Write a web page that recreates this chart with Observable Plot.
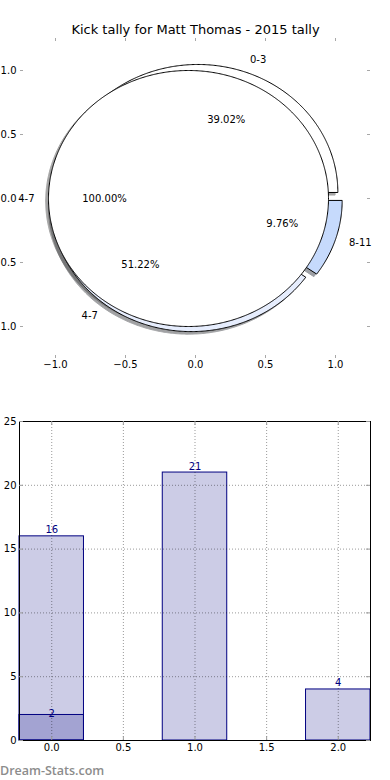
<!DOCTYPE html>
<html><head><meta charset="utf-8">
<script src="https://cdn.jsdelivr.net/npm/d3@7"></script>
<script src="https://cdn.jsdelivr.net/npm/@observablehq/plot@0.6"></script>
<style>
html,body{margin:0;padding:0;background:#fff;}
#chart{width:390px;height:780px;position:relative;overflow:hidden;}
#chart svg{display:block;}
#wm{position:absolute;left:0;top:762px;font-family:"Open Sans";font-size:12.5px;font-weight:600;color:#8c8c8c;white-space:nowrap;}
</style></head><body><div id="chart"></div>
<script>
// ---- data ----
const title = "Kick tally for Matt Thomas - 2015 tally";
const categories = ["0-3", "4-7", "8-11"];
const kicks = [16, 21, 4];
const overlayCategories = ["4-7"];
const overlayKicks = [41];
const wedgeColors = ["#ffffff", "#e6edfd", "#c6dafc"];
const overlayColors = ["#ffffff"];
const pieTicks = [-1, -0.5, 0, 0.5, 1];
const barX = [0, 1, 2];
const barValues = [16, 21, 4];
const subX = [0];
const subValues = [2];
const barXTicks = [0, 0.5, 1, 1.5, 2];
const barYTicks = [0, 5, 10, 15, 20, 25];
const watermark = "Dream-Stats.com";

// ---- pie geometry (matplotlib-style, exploded) ----
const explode = 0.05, shadowOff = 0.02;
function pieWedges(values, labels, colors) {
  const total = d3.sum(values);
  let a = 0;
  return values.map((v, i) => {
    const frac = v / total;
    const t1 = a, t2 = a + 360 * frac; a = t2;
    const tm = (t1 + t2) / 2 * Math.PI / 180;
    const cx = explode * Math.cos(tm), cy = explode * Math.sin(tm);
    const full = frac > 0.999999;
    const n = Math.max(2, Math.ceil((t2 - t1) * 2));
    const arc = d3.range(n + 1).map(k => {
      const t = (t1 + (t2 - t1) * k / n) * Math.PI / 180;
      return {x: cx + Math.cos(t), y: cy + Math.sin(t)};
    });
    const pts = full ? arc : [{x: cx, y: cy}, ...arc, {x: cx, y: cy}];
    return {
      label: labels[i], pct: (frac * 100).toFixed(2) + "%", color: colors[i], pts,
      lx: cx + 1.1 * Math.cos(tm), ly: cy + 1.1 * Math.sin(tm),
      px: cx + 0.6 * Math.cos(tm), py: cy + 0.6 * Math.sin(tm)
    };
  });
}
const pie1 = pieWedges(kicks, categories, wedgeColors);
const pie2 = pieWedges(overlayKicks, overlayCategories, overlayColors);
const allW = [...pie1, ...pie2];

const shadowMarks = allW.map(w => {
  const c = d3.rgb(w.color);
  const sc = d3.rgb(c.r * 0.3, c.g * 0.3, c.b * 0.3).formatHex();
  return Plot.line(w.pts.map(p => ({x: p.x - shadowOff, y: p.y - shadowOff})),
    {x: "x", y: "y", fill: sc, stroke: sc, strokeWidth: 1, opacity: 0.5});
});
const wedgeMarks = allW.map(w => Plot.line(w.pts, {x: "x", y: "y", fill: w.color, stroke: "black", strokeWidth: 1}));

const f1 = d3.format(".1f");

// inward tick marks drawn as short rules inset from the frame
function inwardTicks(xt, yt, W, H, m, len, color) {
  const iw = W - m.left - m.right, ih = H - m.top - m.bottom;
  const s = {stroke: color, strokeWidth: 1};
  return [
    Plot.ruleX(xt, {...s, insetBottom: ih - len}),
    Plot.ruleX(xt, {...s, insetTop: ih - len}),
    Plot.ruleY(yt, {...s, insetRight: iw - len}),
    Plot.ruleY(yt, {...s, insetLeft: iw - len})
  ];
}

const pieM = {left: 20, right: 20, top: 38, bottom: 42};
const pie = Plot.plot({
  width: 390, height: 400,
  marginLeft: pieM.left, marginRight: pieM.right, marginTop: pieM.top, marginBottom: pieM.bottom,
  x: {domain: [-1.25, 1.25]},
  y: {domain: [-1.25, 1.25]},
  style: {fontFamily: "DejaVu Sans", fontSize: "10px", background: "white"},
  marks: [
    ...inwardTicks(pieTicks, pieTicks, 390, 400, pieM, 3, "#a8a8a8"),
    ...shadowMarks,
    ...wedgeMarks,
    Plot.text(allW.filter(w => w.lx < 0), {x: "lx", y: "ly", text: "label", textAnchor: "end", fontSize: 10, fill: "black"}),
    Plot.text(allW.filter(w => w.lx >= 0), {x: "lx", y: "ly", text: "label", textAnchor: "start", fontSize: 10, fill: "black"}),
    Plot.text(allW, {x: "px", y: "py", text: "pct", fontSize: 10, fill: "black"}),
    Plot.text([title], {frameAnchor: "top", lineAnchor: "middle", dy: -9, fontSize: 13, fill: "black"}),
    Plot.axisX(pieTicks, {anchor: "bottom", tickSize: 0, tickPadding: 2, tickFormat: f1, label: null}),
    Plot.axisY(pieTicks, {anchor: "left", tickSize: 0, tickPadding: 4, tickFormat: f1, label: null})
  ]
});

// ---- bar chart ----
const barWidth = 0.45;
const bars = barX.map((x, i) => ({x, v: barValues[i]}));
const subBars = subX.map((x, i) => ({x, v: subValues[i]}));
const gridStyle = {stroke: "#000", strokeOpacity: 0.4, strokeDasharray: "1,2", strokeWidth: 1};
const barM = {left: 19, right: 20, top: 21, bottom: 40};

const bar = Plot.plot({
  width: 390, height: 380,
  marginLeft: barM.left, marginRight: barM.right, marginTop: barM.top, marginBottom: barM.bottom,
  x: {domain: [-0.225, 2.225]},
  y: {domain: [0, 25]},
  style: {fontFamily: "DejaVu Sans", fontSize: "10px", background: "white"},
  marks: [
    Plot.rectY(bars, {x1: d => d.x - barWidth / 2, x2: d => d.x + barWidth / 2, y1: 0, y2: "v", fill: "navy", fillOpacity: 0.2, stroke: "navy", strokeWidth: 1}),
    Plot.rectY(subBars, {x1: d => d.x - barWidth / 2, x2: d => d.x + barWidth / 2, y1: 0, y2: "v", fill: "navy", fillOpacity: 0.2, stroke: "navy", strokeWidth: 1}),
    Plot.frame({stroke: "black", strokeWidth: 1}),
    Plot.gridX(barXTicks, gridStyle),
    Plot.gridY(barYTicks, gridStyle),
    ...inwardTicks(barXTicks, barYTicks, 390, 380, barM, 4, "#999999"),
    Plot.text(bars, {x: "x", y: "v", text: d => String(d.v), fill: "navy", lineAnchor: "bottom", dy: -3, fontSize: 10}),
    Plot.text(subBars, {x: "x", y: "v", text: d => String(d.v), fill: "navy", lineAnchor: "middle", dy: -1, fontSize: 10}),
    Plot.axisX(barXTicks, {anchor: "bottom", tickSize: 0, tickPadding: 3, tickFormat: f1, label: null}),
    Plot.axisY(barYTicks, {anchor: "left", tickSize: 0, tickPadding: 3, tickFormat: d3.format("d"), label: null})
  ]
});

const root = document.getElementById("chart");
root.appendChild(pie);
root.appendChild(bar);
const wm = document.createElement("div");
wm.id = "wm";
wm.textContent = watermark;
root.appendChild(wm);
</script>
</body></html>
